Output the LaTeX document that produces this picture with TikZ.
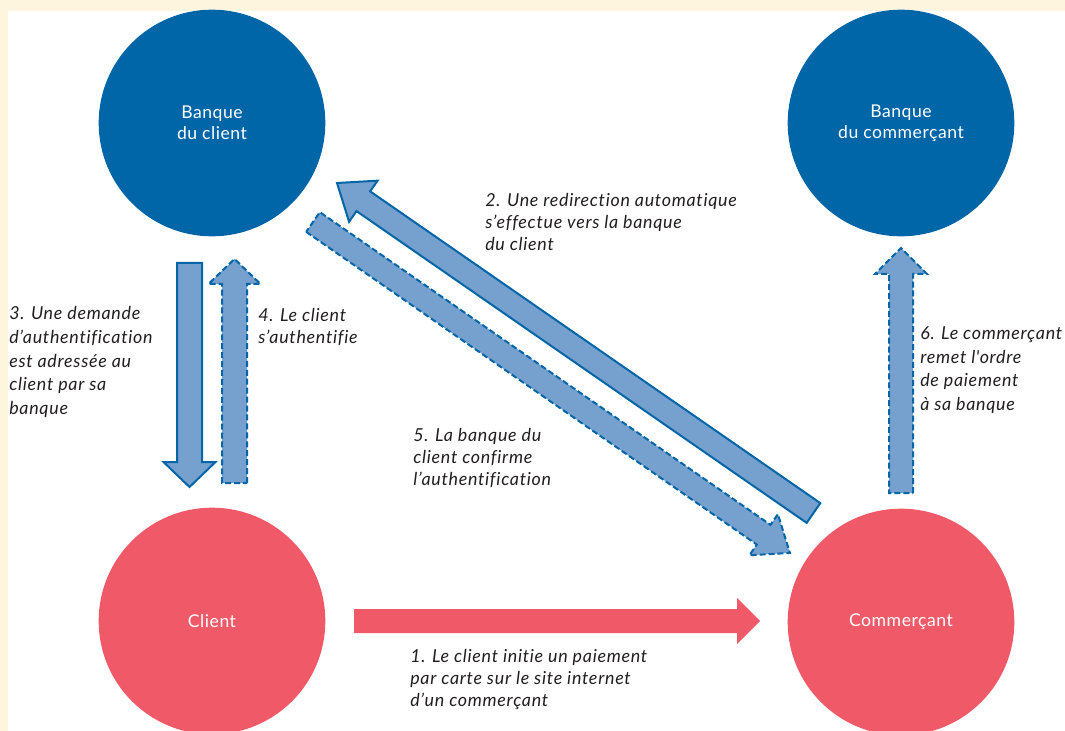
\documentclass[tikz,border=0pt]{standalone}
\usepackage{fontspec}
\setmainfont{Lato}[LetterSpace=3,Ligatures=NoCommon]
\newfontfamily\lblfont{Lato}[LetterSpace=4,Ligatures=NoCommon]
\usetikzlibrary{calc}
\definecolor{dblue}{HTML}{0066A8}
\definecolor{lblue}{HTML}{76A0CE}
\definecolor{cred}{HTML}{F05A68}
\definecolor{cream}{HTML}{FEF5DE}
\definecolor{ink}{HTML}{231F20}
\newdimen\BAdx
\newdimen\BAdy
% #1 style, #2 from, #3 to, #4 half shaft, #5 half head, #6 head length (px)
\newcommand\blockarrow[6]{%
  \pgfextractx{\BAdx}{\pgfpointdiff{\pgfpointanchor{#2}{center}}{\pgfpointanchor{#3}{center}}}%
  \pgfextracty{\BAdy}{\pgfpointdiff{\pgfpointanchor{#2}{center}}{\pgfpointanchor{#3}{center}}}%
  \pgfmathsetmacro\BAang{atan2(\BAdy,\BAdx)}%
  \pgfmathsetmacro\BAlen{veclen(\BAdx,\BAdy)}%
  \draw[#1, shift={(#2)}, rotate=\BAang]
    (0pt,{-#4*0.75pt}) -- ({\BAlen pt-#6*0.75pt},{-#4*0.75pt})
    -- ({\BAlen pt-#6*0.75pt},{-#5*0.75pt}) -- ({\BAlen pt},0pt)
    -- ({\BAlen pt-#6*0.75pt},{#5*0.75pt}) -- ({\BAlen pt-#6*0.75pt},{#4*0.75pt})
    -- (0pt,{#4*0.75pt}) -- cycle;
}
\tikzset{
  bank/.style={circle, fill=dblue, minimum size=170pt, inner sep=0pt, text=white, align=center,
    font=\fontsize{13.2}{15.75}\selectfont},
  person/.style={bank, fill=cred},
  lbl/.style={anchor=west, align=left, inner sep=0pt, text=ink,
    font=\lblfont\itshape\fontsize{13.4}{16.5}\selectfont},
  lblwide/.style={lbl, font=\lblfont\itshape\fontsize{13.4}{17.8}\selectfont},
  solidarrow/.style={fill=lblue, draw=dblue, line width=1.5pt, line join=miter},
  dasharrow/.style={solidarrow, dash pattern=on 4.5pt off 2.2pt},
  redarrow/.style={fill=cred, draw=none},
}
\begin{document}
\begin{tikzpicture}[x=0.75pt,y=-0.75pt]
\fill[cream] (0,0) rectangle (1065,731);
\useasboundingbox (0,0) rectangle (1065,731);
\fill[white] (8,11) rectangle (1065,731);
\clip (0,0) rectangle (1065,731);

\node[bank] (bc) at (212,123) {Banque\\du client};
\node[bank] (bm) at (901,123) {Banque\\du commerçant};
\node[person] (cl) at (212,621) {Client};
\node[person] (cm) at (901,622) {Commerçant};

\coordinate (a1s) at (354,621);   \coordinate (a1e) at (760,621);
\coordinate (a2s) at (813.5,513); \coordinate (a2e) at (337,183);
\coordinate (a3s) at (189.5,263); \coordinate (a3e) at (189.5,487);
\coordinate (a4s) at (234.5,483); \coordinate (a4e) at (234.5,259);
\coordinate (a5s) at (313,222);   \coordinate (a5e) at (790,553);
\coordinate (a6s) at (901,493);   \coordinate (a6e) at (901,248);

\blockarrow{redarrow}{a1s}{a1e}{12}{23}{23}
\blockarrow{solidarrow}{a2s}{a2e}{12}{25}{32}
\blockarrow{solidarrow}{a3s}{a3e}{12.5}{26}{25}
\blockarrow{dasharrow}{a4s}{a4e}{12.5}{26}{25}
\blockarrow{dasharrow}{a5s}{a5e}{12}{25}{32}
\blockarrow{dasharrow}{a6s}{a6e}{12}{26}{26}

\node[lbl] (l1) at (410,680) {1. Le client initie un paiement\\par carte sur le site internet\\d’un commerçant};
\node[lbl] (l2) at (485,222) {2. Une redirection automatique\\s’effectue vers la banque\\du client};
\node[lblwide] (l3) at (9,362) {3. Une demande\\d’authentification\\est adressée au\\client par sa\\banque};
\node[lbl] (l4) at (258,327) {4. Le client\\s’authentifie};
\node[lbl] (l5) at (413,458) {5. La banque du\\client confirme\\l’authentification};
\node[lblwide] (l6) at (920,370) {6. Le commerçant\\remet l'ordre\\de paiement\\à sa banque};
\end{tikzpicture}
\end{document}
